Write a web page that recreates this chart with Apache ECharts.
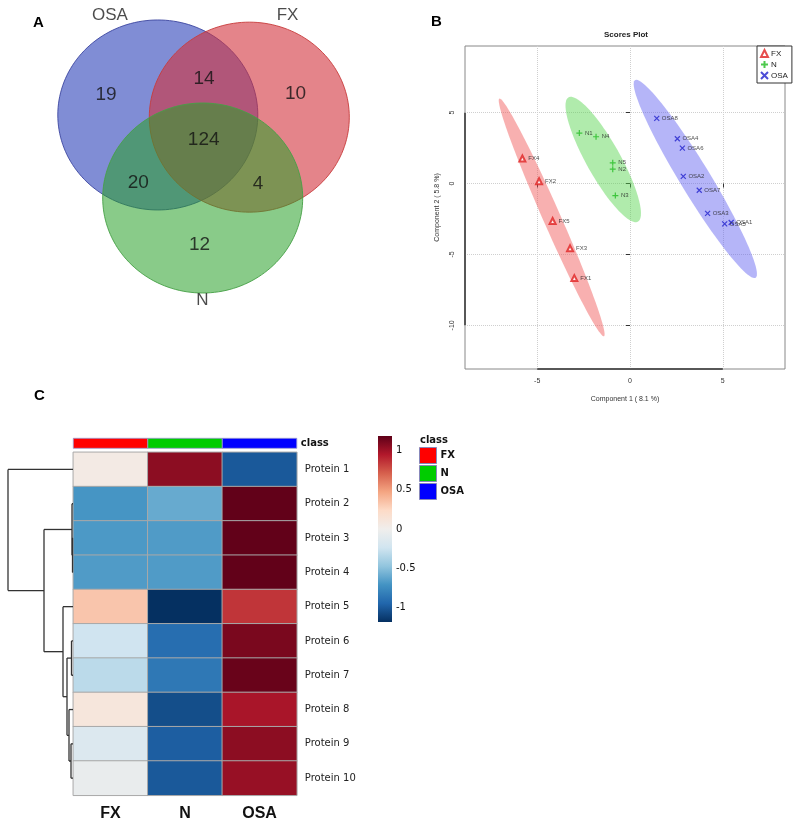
<!DOCTYPE html>
<html><head><meta charset="utf-8">
<script src="https://cdn.jsdelivr.net/npm/echarts@6/dist/echarts.min.js"></script>
<style>html,body{margin:0;padding:0;background:#fff}#c{width:797px;height:827px}</style>
</head><body><div id="c"></div>
<script>
// ---------- DATA ----------
// Venn (A)
const vennSets = ['OSA', 'FX', 'N'];
const vennRegions = ['OSA only', 'FX only', 'N only', 'OSA∩FX', 'OSA∩N', 'FX∩N', 'OSA∩FX∩N'];
const vennCounts = [19, 10, 12, 14, 20, 4, 124];

// Scores plot (B)
const fxNames = ['FX1', 'FX2', 'FX3', 'FX4', 'FX5'];
const fxX = [-3.0, -4.9, -3.23, -5.8, -4.17];
const fxY = [-6.67, 0.16, -4.57, 1.77, -2.64];
const nNames = ['N1', 'N2', 'N3', 'N4', 'N5'];
const nX = [-2.73, -0.93, -0.79, -1.83, -0.93];
const nY = [3.56, 1.01, -0.85, 3.3, 1.46];
const osaNames = ['OSA1', 'OSA2', 'OSA3', 'OSA4', 'OSA5', 'OSA6', 'OSA7', 'OSA8'];
const osaX = [5.45, 2.87, 4.18, 2.55, 5.1, 2.82, 3.73, 1.44];
const osaY = [-2.75, 0.5, -2.1, 3.16, -2.85, 2.5, -0.47, 4.6];
const xTicksB = [-5, 0, 5];
const yTicksB = [-10, -5, 0, 5];

// Heatmap (C)
const groups = ['FX', 'N', 'OSA'];
const proteins = ['Protein 1', 'Protein 2', 'Protein 3', 'Protein 4', 'Protein 5',
  'Protein 6', 'Protein 7', 'Protein 8', 'Protein 9', 'Protein 10'];
const fxVals = [0.05, -0.7, -0.68, -0.67, 0.33, -0.24, -0.32, 0.1, -0.15, -0.05];
const nVals = [1.05, -0.6, -0.67, -0.67, -1.18, -0.9, -0.85, -1.05, -0.98, -1.0];
const osaVals = [-1.0, 1.17, 1.17, 1.17, 0.85, 1.1, 1.15, 0.97, 1.05, 1.02];
const cbTicks = [-1, -0.5, 0, 0.5, 1];
// dendrogram merges (negative = leaf protein k, positive = earlier merge index, 1-based)
const mergeLeft = [-3, -2, -9, -8, -6, 5, -5, 2, -1];
const mergeRight = [-4, 1, -10, 3, -7, 4, 6, 7, 8];
const mergeHeight = [0.5, 1, 2, 4, 1.5, 6, 10, 29, 65];

// ---------- BUILD ----------
const SANS = 'Liberation Sans, Arial, sans-serif';
const DV = 'DejaVu Sans, Verdana, sans-serif';

const vennCenters = [[-0.452, 0.474], [0.463, 0.451], [-0.003, -0.4]];
const vennFill = ['rgba(60,80,190,0.65)', 'rgba(210,50,60,0.6)', 'rgba(40,160,40,0.55)'];
const vennStroke = ['rgba(60,70,160,0.9)', 'rgba(200,60,60,0.9)', 'rgba(70,160,70,0.9)'];
const vennLabelPos = [[-0.93, 1.52], [0.845, 1.52], [-0.005, -1.48]];
const vennRegionPos = [[-0.97, 0.686], [0.925, 0.695], [-0.035, -0.893], [0.01, 0.86], [-0.647, -0.237], [0.55, -0.255], [0.007, 0.216]];

function mean(a) { return a.reduce((s, v) => s + v, 0) / a.length; }
function ellipse(xs, ys) {
  const m = xs.length, mx = mean(xs), my = mean(ys);
  let sxx = 0, syy = 0, sxy = 0;
  for (let i = 0; i < m; i++) { const dx = xs[i] - mx, dy = ys[i] - my; sxx += dx * dx; syy += dy * dy; sxy += dx * dy; }
  sxx /= (m - 1); syy /= (m - 1); sxy /= (m - 1);
  const t = Math.sqrt(5.991464547);
  const tr = sxx + syy, det = sxx * syy - sxy * sxy;
  const d = Math.sqrt(Math.max(tr * tr / 4 - det, 0));
  const l1 = tr / 2 + d, l2 = Math.max(tr / 2 - d, 0);
  let vx = sxy, vy = l1 - sxx;
  if (Math.abs(vx) < 1e-12 && Math.abs(vy) < 1e-12) { vx = 1; vy = 0; }
  const nn = Math.hypot(vx, vy); vx /= nn; vy /= nn;
  const a = t * Math.sqrt(l1), b = t * Math.sqrt(l2);
  const pts = [];
  for (let i = 0; i < 100; i++) {
    const th = 2 * Math.PI * i / 100, c = Math.cos(th), s = Math.sin(th);
    pts.push([mx + a * c * vx - b * s * vy, my + a * c * vy + b * s * vx]);
  }
  return pts;
}
const ellipses = [ellipse(fxX, fxY), ellipse(nX, nY), ellipse(osaX, osaY)];
const ellipseFill = ['rgba(240,80,80,0.45)', 'rgba(80,210,70,0.45)', 'rgba(90,90,240,0.45)'];

const xMinB = -8.89, xMaxB = 8.35, yMinB = -13.08, yMaxB = 9.7;

function dendroSegments() {
  const pos = [], hgt = [], segs = [];
  const get = r => r < 0 ? [-r, 0] : [pos[r - 1], hgt[r - 1]];
  for (let i = 0; i < mergeHeight.length; i++) {
    const [pl, hl] = get(mergeLeft[i]); const [pr, hr] = get(mergeRight[i]); const h = mergeHeight[i];
    segs.push([hl, pl, h, pl], [hr, pr, h, pr], [h, pl, h, pr]);
    pos.push((pl + pr) / 2); hgt.push(h);
  }
  return segs;
}

const heatData = [];
[fxVals, nVals, osaVals].forEach((arr, c) => arr.forEach((v, r) => heatData.push([c, r, v])));
const palette = ['#053061', '#2166ac', '#4393c3', '#92c5de', '#d1e5f0', '#f0eeec', '#fddbc7', '#f4a582', '#d6604d', '#b2182b', '#5e0018'];
const cbMin = -1.18, cbMax = 1.18;
const classColors = ['#ff0000', '#00cc00', '#0000ff'];

const hiddenAxis = (extra) => Object.assign({ type: 'value', show: false, splitLine: { show: false } }, extra);

const option = {
  animation: false,
  backgroundColor: '#fff',
  title: [
    { text: 'A', left: 33, top: 15, padding: 0, textStyle: { fontSize: 15, fontWeight: 'bold', color: '#000', fontFamily: SANS } },
    { text: 'B', left: 431, top: 14, padding: 0, textStyle: { fontSize: 15, fontWeight: 'bold', color: '#000', fontFamily: SANS } },
    { text: 'C', left: 34, top: 388, padding: 0, textStyle: { fontSize: 15, fontWeight: 'bold', color: '#000', fontFamily: SANS } },
    { text: 'Scores Plot', left: 604, top: 31, padding: 0, textStyle: { fontSize: 8, fontWeight: 'bold', color: '#222', fontFamily: SANS } },
    { text: 'class', left: 420, top: 435, padding: 0, textStyle: { fontSize: 10, fontWeight: 'bold', color: '#111', fontFamily: DV } }
  ],
  legend: [
    { data: ['FX', 'N', 'OSA'], left: 757, top: 46, orient: 'vertical', itemWidth: 7, itemHeight: 7, itemGap: 2,
      padding: [3, 4, 3, 3], borderColor: '#333', borderWidth: 1, backgroundColor: '#fff',
      textStyle: { fontSize: 8, color: '#222', fontFamily: SANS, padding: [0, 0, 0, -2] } },
    { data: ['FX ', 'N ', 'OSA '], left: 419, top: 447, orient: 'vertical', icon: 'rect', itemWidth: 17, itemHeight: 16, itemGap: 1,
      padding: 0, formatter: n => n.trim(), itemStyle: { borderColor: '#8888bb', borderWidth: 1 },
      textStyle: { fontSize: 10, fontWeight: 'bold', color: '#111', fontFamily: DV, padding: [0, 0, 0, -1] } }
  ],
  visualMap: { show: false, type: 'continuous', min: cbMin, max: cbMax, dimension: 2, seriesIndex: 7, inRange: { color: palette } },
  grid: [
    { left: 3, top: 0.4, width: 400, height: 319.2 },               // 0 venn
    { left: 465, top: 46, width: 320, height: 323, show: true, borderColor: '#888', borderWidth: 1 }, // 1 scores
    { left: 8, top: 452.3, width: 65, height: 343 },                 // 2 dendrogram
    { left: 73.3, top: 452.3, width: 223.5, height: 343 },           // 3 heatmap
    { left: 73.3, top: 438.3, width: 223.5, height: 10 },            // 4 class bar
    { left: 378, top: 436, width: 14, height: 186 }                  // 5 colorbar
  ],
  xAxis: [
    hiddenAxis({ gridIndex: 0, min: -2, max: 2 }),
    { gridIndex: 1, type: 'value', min: xMinB, max: xMaxB,
      axisLine: { show: false },
      axisTick: { show: true, customValues: xTicksB, length: 4, lineStyle: { color: '#333' } },
      axisLabel: { customValues: xTicksB, fontSize: 7, color: '#333', margin: 9, fontFamily: SANS },
      splitLine: { show: true, lineStyle: { type: 'dotted', color: '#cfcfcf' } },
      name: 'Component 1 ( 8.1 %)', nameLocation: 'middle', nameGap: 27, nameTextStyle: { fontSize: 7, color: '#333', fontFamily: SANS } },
    hiddenAxis({ gridIndex: 2, min: 0, max: 65, inverse: true }),
    { gridIndex: 3, type: 'category', data: groups, axisLine: { show: false }, axisTick: { show: false },
      axisLabel: { fontSize: 16, fontWeight: 'bold', color: '#111', margin: 10, fontFamily: SANS } },
    { gridIndex: 4, type: 'category', data: groups, show: false },
    hiddenAxis({ gridIndex: 5, min: 0, max: 1 })
  ],
  yAxis: [
    hiddenAxis({ gridIndex: 0, min: -1.68, max: 1.68 }),
    { gridIndex: 1, type: 'value', min: yMinB, max: yMaxB,
      axisLine: { show: false },
      axisTick: { show: true, customValues: yTicksB, length: 4, lineStyle: { color: '#333' } },
      axisLabel: { customValues: yTicksB, fontSize: 7, color: '#333', margin: 9, rotate: 90, fontFamily: SANS },
      splitLine: { show: true, lineStyle: { type: 'dotted', color: '#cfcfcf' } },
      name: 'Component 2 ( 5.8 %)', nameLocation: 'middle', nameGap: 24, nameRotate: 90, nameTextStyle: { fontSize: 7, color: '#333', fontFamily: SANS } },
    hiddenAxis({ gridIndex: 2, min: 0.5, max: 10.5, inverse: true }),
    { gridIndex: 3, type: 'category', data: proteins, inverse: true, position: 'right',
      axisLine: { show: false }, axisTick: { show: false },
      axisLabel: { fontSize: 10, color: '#222', margin: 8, fontFamily: DV } },
    { gridIndex: 4, type: 'category', data: ['class'], position: 'right', axisLine: { show: false }, axisTick: { show: false },
      axisLabel: { fontSize: 10, fontWeight: 'bold', color: '#111', margin: 4, fontFamily: DV } },
    { gridIndex: 5, type: 'value', min: cbMin, max: cbMax, position: 'right',
      axisLine: { show: false }, axisTick: { show: false }, splitLine: { show: false },
      axisLabel: { customValues: cbTicks, fontSize: 10, color: '#111', margin: 4, fontFamily: DV } }
  ],
  series: [
    // 0 Venn circles
    { type: 'custom', xAxisIndex: 0, yAxisIndex: 0, silent: true,
      data: vennCenters.map((c, i) => [c[0], c[1], i]),
      renderItem: (p, api) => {
        const cx = api.value(0), cy = api.value(1), i = api.value(2);
        const pts = [];
        for (let k = 0; k < 160; k++) { const th = 2 * Math.PI * k / 160; pts.push(api.coord([cx + Math.cos(th), cy + Math.sin(th)])); }
        return { type: 'polygon', shape: { points: pts }, style: { fill: vennFill[i], stroke: vennStroke[i], lineWidth: 1 } };
      } },
    // 1 Venn texts (set names and counts)
    { type: 'scatter', xAxisIndex: 0, yAxisIndex: 0, symbolSize: 0, silent: true,
      data: vennSets.map((s, i) => ({ value: vennLabelPos[i], name: s, label: { fontSize: 17, color: '#1e1e1e' } }))
        .concat(vennCounts.map((v, i) => ({ value: vennRegionPos[i], name: String(v), label: { fontSize: 19, color: '#111' } }))),
      label: { show: true, position: 'inside', formatter: p => p.name, fontFamily: SANS, color: '#111' } },
    // 2 Confidence ellipses
    { type: 'custom', xAxisIndex: 1, yAxisIndex: 1, silent: true, clip: true,
      data: [[0, 0], [1, 0], [2, 0]],
      renderItem: (p, api) => {
        const i = api.value(0);
        return { type: 'polygon', shape: { points: ellipses[i].map(q => api.coord(q)) }, style: { fill: ellipseFill[i] } };
      } },
    // 3-5 Scores
    { name: 'FX', type: 'scatter', xAxisIndex: 1, yAxisIndex: 1, symbol: 'emptyTriangle', symbolSize: 6,
      itemStyle: { color: '#e02020', borderWidth: 1 },
      data: fxX.map((x, i) => [x, fxY[i], fxNames[i]]),
      label: { show: true, position: 'right', distance: 2, formatter: p => p.data[2], fontSize: 6, color: '#222', fontFamily: SANS } },
    { name: 'N', type: 'scatter', xAxisIndex: 1, yAxisIndex: 1, symbol: 'path://M5,0L5,10M0,5L10,5', symbolSize: 6,
      itemStyle: { color: 'rgba(0,0,0,0)', borderColor: '#22bb22', borderWidth: 1.2 },
      data: nX.map((x, i) => [x, nY[i], nNames[i]]),
      label: { show: true, position: 'right', distance: 2, formatter: p => p.data[2], fontSize: 6, color: '#222', fontFamily: SANS } },
    { name: 'OSA', type: 'scatter', xAxisIndex: 1, yAxisIndex: 1, symbol: 'path://M0,0L10,10M10,0L0,10', symbolSize: 5,
      itemStyle: { color: 'rgba(0,0,0,0)', borderColor: '#2020cc', borderWidth: 1.2 },
      data: osaX.map((x, i) => [x, osaY[i], osaNames[i]]),
      label: { show: true, position: 'right', distance: 2, formatter: p => p.data[2], fontSize: 6, color: '#222', fontFamily: SANS } },
    // 6 R-style axis segments
    { type: 'custom', xAxisIndex: 1, yAxisIndex: 1, silent: true, clip: false, data: [[0, 0]],
      renderItem: (p, api) => {
        const a = api.coord([xTicksB[0], yMinB]), b = api.coord([xTicksB[xTicksB.length - 1], yMinB]);
        const c = api.coord([xMinB, yTicksB[0]]), d = api.coord([xMinB, yTicksB[yTicksB.length - 1]]);
        return { type: 'group', children: [
          { type: 'line', shape: { x1: a[0], y1: a[1], x2: b[0], y2: b[1] }, style: { stroke: '#333', lineWidth: 1.5 } },
          { type: 'line', shape: { x1: c[0], y1: c[1], x2: d[0], y2: d[1] }, style: { stroke: '#333', lineWidth: 1.5 } }
        ] };
      } },
    // 7 Heatmap
    { type: 'heatmap', xAxisIndex: 3, yAxisIndex: 3, data: heatData,
      itemStyle: { borderColor: '#a8a8a8', borderWidth: 1 } },
    // 8 Dendrogram
    { type: 'custom', xAxisIndex: 2, yAxisIndex: 2, silent: true, clip: false,
      data: dendroSegments(), encode: { x: [0, 2], y: [1, 3] },
      renderItem: (p, api) => {
        const a = api.coord([api.value(0), api.value(1)]), b = api.coord([api.value(2), api.value(3)]);
        return { type: 'line', shape: { x1: a[0], y1: a[1], x2: b[0], y2: b[1] }, style: { stroke: '#333', lineWidth: 1.3 } };
      } },
    // 9-11 class bar
    ...groups.map((g, i) => ({
      name: g + ' ', type: 'custom', xAxisIndex: 4, yAxisIndex: 4, silent: true,
      itemStyle: { color: classColors[i] },
      data: [[i, 0]],
      renderItem: (p, api) => {
        const c = api.coord([api.value(0), api.value(1)]), s = api.size([1, 1]);
        return { type: 'rect', shape: { x: c[0] - s[0] / 2, y: c[1] - s[1] / 2, width: s[0], height: s[1] },
          style: { fill: api.visual('color'), stroke: '#9a9acf', lineWidth: 0.8 } };
      } })),
    // 12 colorbar
    { type: 'custom', xAxisIndex: 5, yAxisIndex: 5, silent: true, data: [[0, 0]],
      renderItem: (p, api) => {
        const a = api.coord([0, cbMax]), b = api.coord([1, cbMin]);
        return { type: 'rect', shape: { x: a[0], y: a[1], width: b[0] - a[0], height: b[1] - a[1] },
          style: { fill: new echarts.graphic.LinearGradient(0, 1, 0, 0, palette.map((c, i) => ({ offset: i / (palette.length - 1), color: c }))) } };
      } }
  ]
};

const chart = echarts.init(document.getElementById('c'));
chart.setOption(option);
</script>
</body></html>
